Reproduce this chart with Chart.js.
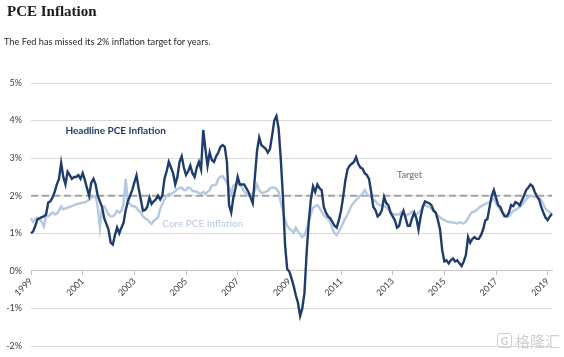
<!DOCTYPE html>
<html><head><meta charset="utf-8">
<script src="https://cdn.jsdelivr.net/npm/chart.js@4.4.0/dist/chart.umd.min.js"></script>
<style>
html,body{margin:0;padding:0;background:#fff;}
#wrap{position:relative;width:564px;height:357px;overflow:hidden;}
canvas{position:absolute;left:0;top:0;}
#title{position:absolute;left:7px;top:3px;font:bold 15px "Liberation Serif",serif;color:#1a1a1a;}
#sub{position:absolute;left:4px;top:36px;font:9.2px Lato,sans-serif;color:#2a2a2a;}
#wm{position:absolute;left:497px;top:330px;font:15px "Noto Sans CJK SC",sans-serif;color:#cfcfcf;display:flex;align-items:center;gap:3px;}
#wm span.g{display:inline-block;border:1.5px solid #cfcfcf;border-radius:3px;width:13px;height:13px;line-height:13px;text-align:center;font:bold 11px Lato,sans-serif;}
</style></head>
<body><div id="wrap">
<canvas id="c" width="564" height="357"></canvas>
<div id="title">PCE Inflation</div>
<div id="sub">The Fed has missed its 2% inflation target for years.</div>
<div id="wm"><span class="g">G</span><span>格隆汇</span></div>
</div>
<script>
// Headline PCE inflation, y/y %, monthly
const headline1999 = [1.0,1.05,1.2,1.37,1.4,1.43,1.45,1.5,1.82,1.85,1.95,2.1];
const headline2000 = [2.3,2.45,2.87,2.5,2.3,2.64,2.55,2.45,2.5,2.5,2.55,2.45];
const headline2001 = [2.6,2.42,2.2,2.0,2.35,2.45,2.3,2.0,1.85,1.7,1.4,1.25];
const headline2002 = [1.1,0.75,0.7,0.95,1.15,1.0,1.15,1.28,1.62,1.85,2.0,2.15];
const headline2003 = [2.35,2.54,2.2,1.9,1.6,1.62,1.7,1.95,1.78,1.85,1.9,2.0];
const headline2004 = [1.9,2.0,2.45,2.65,2.9,2.75,2.6,2.3,2.5,2.9,3.05,2.75];
const headline2005 = [2.55,2.65,2.8,2.6,2.5,2.75,2.9,2.7,3.75,3.25,2.8,3.15];
const headline2006 = [2.95,2.9,3.05,3.15,3.3,3.35,3.3,2.9,1.75,1.55,1.95,2.2];
const headline2007 = [2.5,2.3,2.3,2.3,2.2,2.1,1.95,1.8,2.5,3.2,3.55,3.35];
const headline2008 = [3.3,3.25,3.15,3.25,3.6,4.0,4.12,3.8,3.0,2.0,0.7,0.05];
const headline2009 = [-0.02,-0.2,-0.4,-0.65,-0.85,-1.2,-1.0,-0.6,0.45,1.3,1.9,2.25];
const headline2010 = [2.1,2.3,2.2,2.15,1.7,1.55,1.45,1.4,1.3,1.2,1.15,1.35];
const headline2011 = [1.6,1.97,2.4,2.7,2.8,2.85,2.9,3.03,2.85,2.75,2.72,2.6];
const headline2012 = [2.55,2.45,2.1,1.7,1.62,1.45,1.5,1.62,1.97,1.8,1.75,1.55];
const headline2013 = [1.45,1.35,1.15,1.2,1.45,1.6,1.4,1.2,1.2,1.4,1.55,1.4];
const headline2014 = [1.1,1.45,1.7,1.85,1.82,1.8,1.75,1.6,1.55,1.35,1.1,0.55];
const headline2015 = [0.25,0.28,0.2,0.28,0.33,0.25,0.28,0.2,0.13,0.25,0.42,0.9];
const headline2016 = [0.75,0.85,0.9,0.85,0.85,0.95,1.1,1.34,1.38,1.7,2.0,2.15];
const headline2017 = [1.95,1.75,1.7,1.55,1.45,1.45,1.55,1.75,1.72,1.83,1.8,1.74];
const headline2018 = [1.87,2.0,2.15,2.22,2.3,2.25,2.1,1.98,1.9,1.7,1.55,1.42];
const headline2019 = [1.35,1.45,1.52];

// Core PCE inflation, y/y %, monthly
const core1999 = [1.4,1.3,1.38,1.42,1.37,1.3,1.18,1.45,1.45,1.5,1.55,1.5];
const core2000 = [1.52,1.6,1.72,1.64,1.66,1.68,1.7,1.72,1.75,1.77,1.79,1.8];
const core2001 = [1.82,1.82,1.86,1.9,1.95,1.97,2.0,1.7,1.15,1.7,1.72,1.62];
const core2002 = [1.5,1.45,1.45,1.5,1.6,1.55,1.6,1.77,2.45,1.82,1.78,1.72];
const core2003 = [1.72,1.68,1.6,1.55,1.45,1.4,1.37,1.3,1.25,1.33,1.38,1.42];
const core2004 = [1.65,1.78,1.9,2.0,2.05,2.05,2.08,2.12,2.18,2.2,2.22,2.15];
const core2005 = [2.15,2.22,2.2,2.13,2.12,2.1,2.07,2.05,2.1,2.05,2.1,2.15];
const core2006 = [2.27,2.28,2.3,2.45,2.5,2.52,2.44,2.35,2.22,2.05,2.27,2.3];
const core2007 = [2.38,2.3,2.22,2.12,2.05,2.0,2.03,2.05,2.13,2.3,2.15,2.08];
const core2008 = [2.08,2.1,2.13,2.2,2.22,2.22,2.18,2.1,1.82,1.6,1.35,1.2];
const core2009 = [1.12,1.08,1.02,1.15,1.05,0.98,0.9,0.95,1.1,1.3,1.5,1.68];
const core2010 = [1.72,1.75,1.68,1.58,1.48,1.42,1.38,1.3,1.12,1.0,0.95,1.05];
const core2011 = [1.15,1.28,1.4,1.5,1.62,1.75,1.82,1.88,1.95,2.0,2.05,2.15];
const core2012 = [2.05,2.0,1.97,1.9,1.85,1.78,1.75,1.75,1.72,1.7,1.63,1.57];
const core2013 = [1.52,1.5,1.5,1.5,1.56,1.55,1.46,1.5,1.52,1.58,1.52,1.5];
const core2014 = [1.55,1.6,1.75,1.75,1.72,1.7,1.65,1.6,1.55,1.47,1.42,1.38];
const core2015 = [1.35,1.32,1.3,1.3,1.28,1.28,1.26,1.3,1.28,1.26,1.3,1.4];
const core2016 = [1.5,1.57,1.58,1.62,1.68,1.72,1.75,1.78,1.8,1.83,1.88,1.92];
const core2017 = [1.8,1.7,1.62,1.58,1.5,1.45,1.45,1.52,1.6,1.62,1.66,1.7];
const core2018 = [1.75,1.83,1.9,1.96,2.0,1.98,1.96,2.0,1.95,1.88,1.78,1.65];
const core2019 = [1.6,1.55,1.52];

const targetRate = 2;
const yearTicks = ['1999','2001','2003','2005','2007','2009','2011','2013','2015','2017','2019'];

const headline = [].concat(headline1999,headline2000,headline2001,headline2002,headline2003,headline2004,headline2005,headline2006,headline2007,headline2008,headline2009,headline2010,headline2011,headline2012,headline2013,headline2014,headline2015,headline2016,headline2017,headline2018,headline2019);
const core = [].concat(core1999,core2000,core2001,core2002,core2003,core2004,core2005,core2006,core2007,core2008,core2009,core2010,core2011,core2012,core2013,core2014,core2015,core2016,core2017,core2018,core2019);

const months = [];
for (let i = 0; i < headline.length; i++) {
  const yr = 1999 + Math.floor(i / 12), mo = (i % 12) + 1;
  months.push(yr + '-' + String(mo).padStart(2, '0'));
}
const target = months.map(() => targetRate);

const annotations = [
  {text: 'Headline PCE Inflation', at: '2000-05', value: 3.73, color: '#1f3c6e', font: 'bold 10px Lato'},
  {text: 'Core PCE Inflation', at: '2004-02', value: 1.26, color: '#b7cae3', font: '10px Lato'},
  {text: 'Target', at: '2013-03', value: 2.56, color: '#8a8a8a', font: 'bold 9px Lato'}
];

const labelPlugin = {
  id: 'seriesLabels',
  afterDatasetsDraw(chart) {
    const {ctx, scales: {x, y}} = chart;
    ctx.save();
    ctx.textAlign = 'left';
    ctx.textBaseline = 'middle';
    annotations.forEach(a => {
      ctx.font = a.font;
      ctx.fillStyle = a.color;
      ctx.fillText(a.text, x.getPixelForValue(months.indexOf(a.at)), y.getPixelForValue(a.value));
    });
    ctx.restore();
  }
};

new Chart(document.getElementById('c'), {
  type: 'line',
  data: {
    labels: months,
    datasets: [
      {label: 'Headline PCE Inflation', data: headline, borderColor: '#1f3c6e', borderWidth: 2.4, pointRadius: 0, tension: 0},
      {label: 'Core PCE Inflation', data: core, borderColor: '#b4c8e1', borderWidth: 2.4, pointRadius: 0, tension: 0},
      {label: 'Target', data: target, borderColor: '#a3a3a3', borderWidth: 2, borderDash: [7, 4], pointRadius: 0}
    ]
  },
  options: {
    responsive: false,
    animation: false,
    devicePixelRatio: 1,
    layout: {padding: {top: 83, bottom: 11, left: 4, right: 12}},
    plugins: {legend: {display: false}, tooltip: {enabled: false}},
    scales: {
      x: {
        type: 'category',
        position: {y: 0},
        grid: {drawOnChartArea: false, drawTicks: true, tickLength: 4, color: '#bfbfbf'},
        border: {display: true, color: '#c8c8c8'},
        ticks: {
          autoSkip: false, minRotation: 45, maxRotation: 45, padding: 1,
          font: {family: 'Lato', size: 9}, color: '#404040',
          callback: (v, i) => (i % 24 === 0 ? yearTicks[i / 24] : null)
        }
      },
      y: {
        min: -2, max: 5,
        ticks: {stepSize: 1, padding: 9, font: {family: 'Lato', size: 9}, color: '#404040', callback: v => v + '%'},
        grid: {color: '#d9d9d9', drawTicks: false, lineWidth: 1},
        border: {display: false},
        afterFit(s) { s.width = 27; s.paddingTop = 6; s.paddingBottom = 6; }
      }
    }
  },
  plugins: [labelPlugin]
});
</script>
</body></html>
